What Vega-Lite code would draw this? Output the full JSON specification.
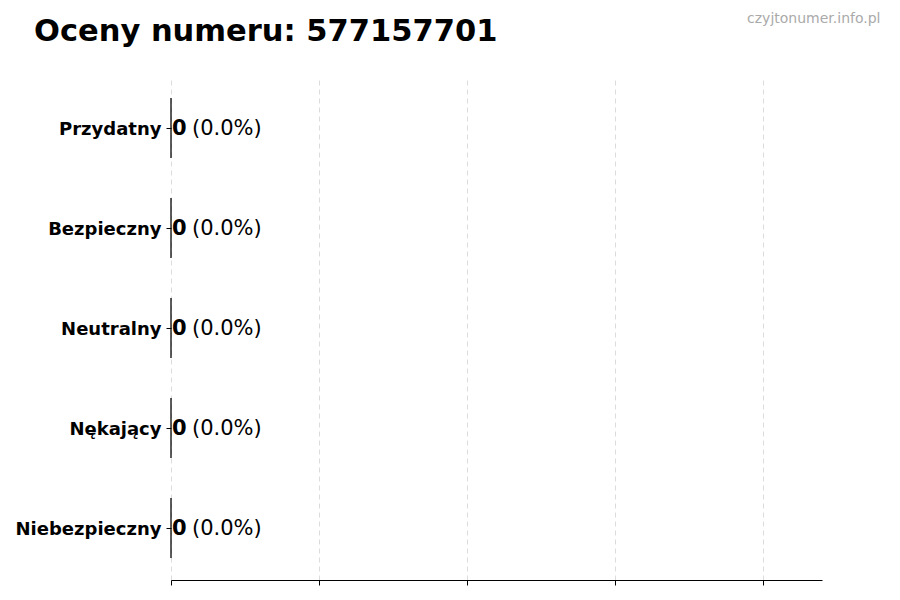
{
  "$schema": "https://vega.github.io/schema/vega-lite/v6.json",
  "width": 651,
  "height": 504,
  "autosize": {"type": "none"},
  "padding": {"left": 171, "top": 76, "right": 78, "bottom": 20},
  "background": "#ffffff",
  "config": {
    "view": {"stroke": null},
    "font": "DejaVu Sans",
    "axis": {"labelFont": "DejaVu Sans", "titleFont": "DejaVu Sans"}
  },
  "title": {
    "text": "Oceny numeru: 577157701",
    "font": "DejaVu Sans",
    "fontSize": 30.5,
    "fontWeight": "bold",
    "color": "#000000",
    "anchor": "start",
    "frame": "group",
    "baseline": "alphabetic",
    "dx": -137,
    "offset": -60
  },
  "data": {
    "values": [
      {"ocena": "Przydatny", "liczba": 0, "procent": 0.0},
      {"ocena": "Bezpieczny", "liczba": 0, "procent": 0.0},
      {"ocena": "Neutralny", "liczba": 0, "procent": 0.0},
      {"ocena": "Nękający", "liczba": 0, "procent": 0.0},
      {"ocena": "Niebezpieczny", "liczba": 0, "procent": 0.0}
    ]
  },
  "transform": [
    {"calculate": "'(' + format(datum.procent, '.1f') + '%)'", "as": "udzial"}
  ],
  "encoding": {
    "y": {
      "field": "ocena",
      "type": "nominal",
      "sort": null,
      "scale": {"paddingInner": 0.4, "paddingOuter": 0.22},
      "axis": {
        "title": "czyjtonumer.info.pl",
        "titleAngle": 0,
        "titleX": 709,
        "titleY": -54,
        "titleAlign": "right",
        "titleBaseline": "alphabetic",
        "titleFontWeight": "normal",
        "titleFontSize": 14,
        "titleColor": "#aaaaaa",
        "labelFontSize": 18,
        "labelFontWeight": "bold",
        "labelColor": "#000000",
        "labelPadding": 5,
        "labelOffset": 2,
        "tickColor": "#000000",
        "tickSize": 5,
        "domain": false,
        "grid": false
      }
    },
    "x": {
      "field": "liczba",
      "type": "quantitative",
      "scale": {"domain": [0, 4.4], "nice": false, "zero": true},
      "axis": {
        "title": null,
        "values": [0, 1, 2, 3, 4],
        "labels": false,
        "domainColor": "#000000",
        "domainWidth": 1,
        "tickColor": "#000000",
        "tickSize": 5,
        "grid": true,
        "gridColor": "#d3d3d3",
        "gridDash": [5, 4],
        "gridWidth": 0.8
      }
    }
  },
  "layer": [
    {
      "mark": {"type": "bar", "fill": "#4c72b0", "stroke": "#000000", "strokeWidth": 0.8}
    },
    {
      "mark": {"type": "text", "align": "left", "baseline": "middle", "dx": 1, "dy": 1, "fontSize": 21, "fontWeight": "bold", "color": "#000000"},
      "encoding": {"text": {"field": "liczba", "type": "quantitative"}}
    },
    {
      "mark": {"type": "text", "align": "left", "baseline": "middle", "dx": 21, "dy": 1, "fontSize": 21, "color": "#000000"},
      "encoding": {"text": {"field": "udzial"}}
    }
  ]
}
